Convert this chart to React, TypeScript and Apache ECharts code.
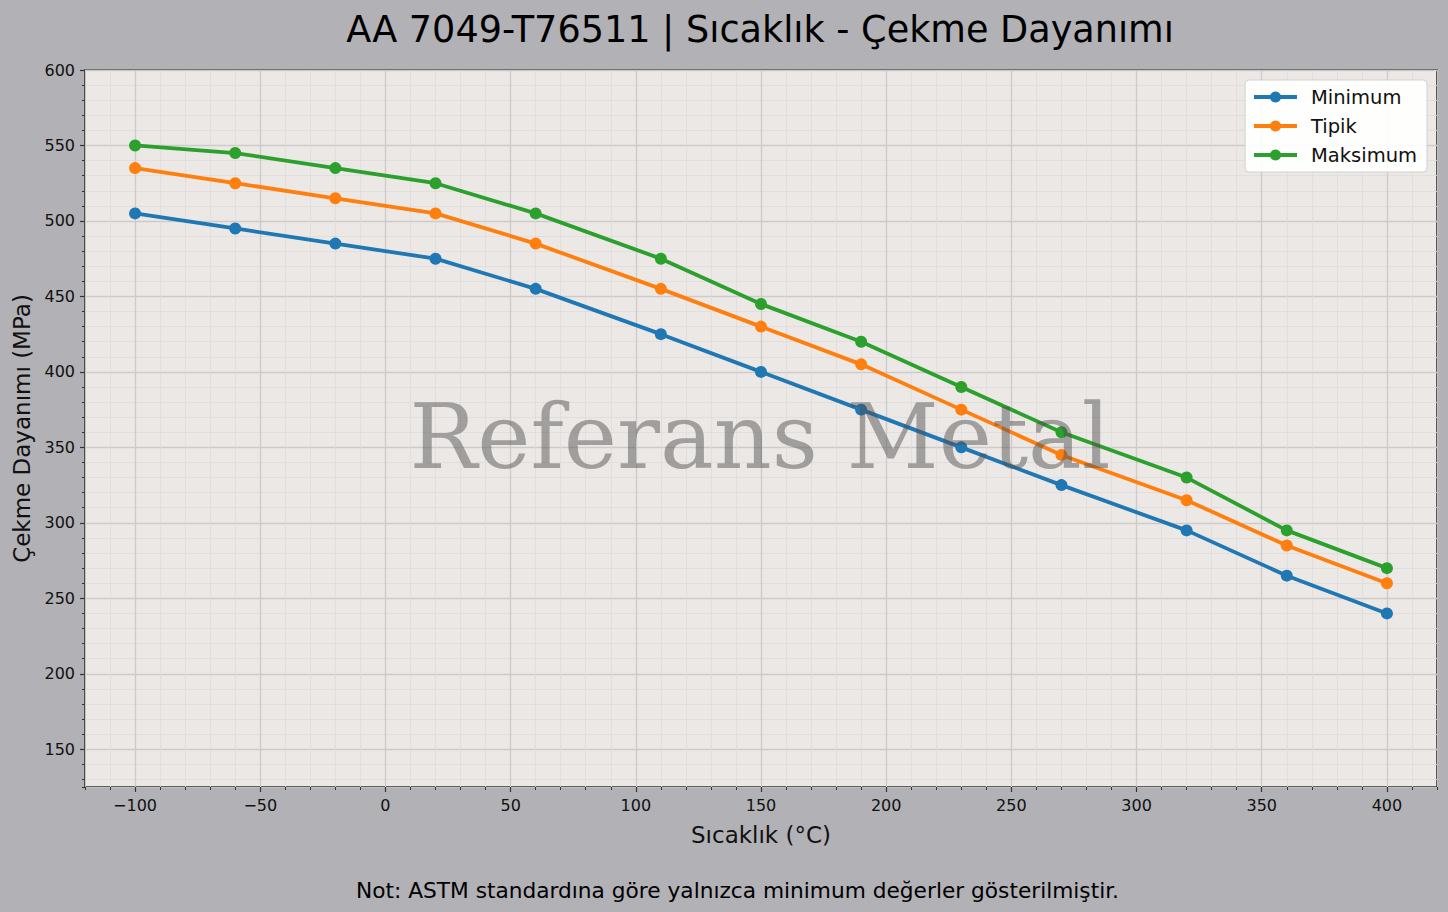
import React, { useEffect, useRef } from 'react'
import * as echarts from 'echarts'

// Sıcaklık (°C) noktaları
const temps = [-100, -60, -20, 20, 60, 110, 150, 190, 230, 270, 320, 360, 400]
// Çekme dayanımı (MPa)
const minimumVals = [505, 495, 485, 475, 455, 425, 400, 375, 350, 325, 295, 265, 240]
const typicalVals = [535, 525, 515, 505, 485, 455, 430, 405, 375, 345, 315, 285, 260]
const maximumVals = [550, 545, 535, 525, 505, 475, 445, 420, 390, 360, 330, 295, 270]

const seriesNames = ['Minimum', 'Tipik', 'Maksimum']
const seriesColors = ['#1f77b4', '#ff7f0e', '#2ca02c']

const xTicks = [-100, -50, 0, 50, 100, 150, 200, 250, 300, 350, 400]
const yTicks = [150, 200, 250, 300, 350, 400, 450, 500, 550, 600]

const FONT = 'DejaVu Sans'

const App: React.FC = () => {
    const chartRef = useRef<HTMLDivElement | null>(null)

    useEffect(() => {
        document.body.style.margin = '0'
        if (!chartRef.current) return
        const chart = echarts.init(chartRef.current, undefined, { renderer: 'svg' })

        const minus = (v: number) => String(v).replace('-', '\u2212')
        const allVals = [minimumVals, typicalVals, maximumVals]

        chart.setOption({
            animation: false,
            backgroundColor: '#b2b1b6',
            textStyle: { fontFamily: FONT },
            grid: {
                left: 85,
                right: 11,
                top: 70,
                bottom: 125,
                show: true,
                backgroundColor: '#ebe8e6',
                borderColor: '#333',
                borderWidth: 1.6,
            },
            legend: {
                orient: 'vertical',
                right: 21,
                top: 80,
                data: seriesNames,
                backgroundColor: 'rgba(255,255,255,0.92)',
                borderColor: '#d2d2d2',
                borderWidth: 1,
                borderRadius: 4,
                padding: [7, 10, 7, 7],
                itemWidth: 43,
                itemHeight: 14,
                itemGap: 9,
                lineStyle: { width: 3.8 },
                textStyle: {
                    fontFamily: FONT,
                    fontSize: 19.5,
                    lineHeight: 20,
                    color: '#111',
                    padding: [0, 0, 0, 9],
                },
            },
            xAxis: [
                {
                    // minor ticks / grid
                    type: 'value',
                    min: -120,
                    max: 420,
                    interval: 10,
                    position: 'bottom',
                    axisLine: { show: false, onZero: false },
                    axisLabel: { show: false },
                    axisTick: { length: 3, lineStyle: { color: '#333', width: 1 } },
                    splitLine: { lineStyle: { color: '#dfdbda', width: 0.8 } },
                },
                {
                    type: 'value',
                    min: -120,
                    max: 420,
                    splitNumber: 10,
                    position: 'bottom',
                    name: 'Sıcaklık (°C)',
                    nameLocation: 'middle',
                    nameGap: 36,
                    nameTextStyle: { fontFamily: FONT, fontSize: 23, color: '#111' },
                    axisLine: { show: false, onZero: false },
                    axisTick: {
                        customValues: xTicks,
                        length: 5,
                        lineStyle: { color: '#333', width: 1.2 },
                    },
                    axisLabel: {
                        customValues: xTicks,
                        margin: 10,
                        fontFamily: FONT,
                        fontSize: 16,
                        color: '#111',
                        formatter: minus,
                    },
                    splitLine: { lineStyle: { color: '#cfcaca', width: 1.3 } },
                },
            ],
            yAxis: [
                {
                    type: 'value',
                    min: 125,
                    max: 600,
                    splitNumber: 48,
                    position: 'left',
                    axisLine: { show: false, onZero: false },
                    axisLabel: { show: false },
                    axisTick: { length: 3, lineStyle: { color: '#333', width: 1 } },
                    splitLine: { lineStyle: { color: '#dfdbda', width: 0.8 } },
                },
                {
                    type: 'value',
                    min: 125,
                    max: 600,
                    splitNumber: 10,
                    position: 'left',
                    name: 'Çekme Dayanımı (MPa)',
                    nameLocation: 'middle',
                    nameRotate: 90,
                    nameGap: 50,
                    nameTextStyle: { fontFamily: FONT, fontSize: 23, color: '#111' },
                    axisLine: { show: false, onZero: false },
                    axisTick: {
                        customValues: yTicks,
                        length: 5,
                        lineStyle: { color: '#333', width: 1.2 },
                    },
                    axisLabel: {
                        customValues: yTicks,
                        margin: 10,
                        fontFamily: FONT,
                        fontSize: 16,
                        color: '#111',
                    },
                    splitLine: { lineStyle: { color: '#cfcaca', width: 1.3 } },
                },
            ],
            series: seriesNames.map((name, i) => ({
                name,
                type: 'line',
                xAxisIndex: 1,
                yAxisIndex: 1,
                data: temps.map((t, k) => [t, allVals[i][k]]),
                symbol: 'circle',
                symbolSize: 12,
                color: seriesColors[i],
                lineStyle: { width: 3.8, color: seriesColors[i] },
                itemStyle: { color: seriesColors[i] },
            })),
            graphic: [
                {
                    type: 'text',
                    x: 760,
                    y: 29.5,
                    style: {
                        text: 'AA 7049-T76511 | Sıcaklık - Çekme Dayanımı',
                        font: `36.6px "${FONT}"`,
                        fill: '#000',
                        textAlign: 'center',
                        textVerticalAlign: 'middle',
                    },
                },
                {
                    type: 'text',
                    x: 356,
                    y: 890,
                    style: {
                        text: 'Not: ASTM standardına göre yalnızca minimum değerler gösterilmiştir.',
                        font: `21.7px "${FONT}"`,
                        fill: '#000',
                        textAlign: 'left',
                        textVerticalAlign: 'middle',
                    },
                },
                {
                    type: 'text',
                    x: 760,
                    y: 436,
                    z: 100,
                    silent: true,
                    style: {
                        text: 'Referans Metal',
                        font: '90px "DejaVu Serif"',
                        fill: 'rgba(80,80,80,0.48)',
                        textAlign: 'center',
                        textVerticalAlign: 'middle',
                    },
                },
            ],
        })

        return () => {
            chart.dispose()
        }
    }, [])

    return <div ref={chartRef} style={{ width: '1448px', height: '912px' }} />
}

export default App
